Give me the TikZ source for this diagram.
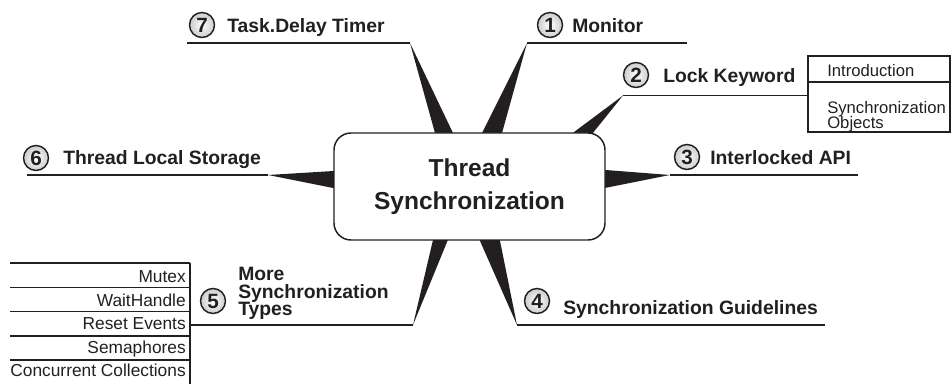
\documentclass[tikz,border=0pt]{standalone}
\usepackage{fontspec}
\setmainfont{Liberation Sans}
\definecolor{ink}{HTML}{231F20}
\begin{document}
\begin{tikzpicture}[x=0.75pt,y=-0.75pt,
  lab/.style={anchor=base west, inner sep=0, font=\bfseries\fontsize{14.5}{17}\selectfont, text=ink},
  num/.style={circle, draw=ink, line width=1.1pt, inner sep=0, minimum size=18.75pt, inner color=white, outer color=gray!40, font=\bfseries\fontsize{15.5}{17}\selectfont, text=ink},
  uline/.style={draw=ink, line width=1.1pt},
  spike/.style={fill=ink},
  sub/.style={inner sep=0, font=\fontsize{12.5}{11.25}\selectfont, text=ink, align=left},
  item/.style={anchor=base east, inner sep=0, font=\fontsize{13}{15}\selectfont, text=ink},
  core/.style={draw=ink, line width=1.1pt, fill=white, rounded corners=12.75pt, minimum width=203.25pt, minimum height=80.25pt, align=center, font=\bfseries\fontsize{18.4}{24.75}\selectfont, text=ink}
]
\path[use as bounding box] (0,0) rectangle (951,384);

% apex points and underline ends
\coordinate (a7) at (410,43);   \coordinate (e7) at (187,43);
\coordinate (a1) at (527,43);   \coordinate (e1) at (687,43);
\coordinate (a2) at (623,95.5); \coordinate (e2) at (808,95.5);
\coordinate (a3) at (670,175);  \coordinate (e3) at (858,175);
\coordinate (a6) at (268,175);  \coordinate (e6) at (27,175);
\coordinate (a5) at (413,325);  \coordinate (e5) at (190,325);
\coordinate (a4) at (517,325);  \coordinate (e4) at (825,325);

% spikes
\fill[spike] (a7) -- (439.7,150) -- (461.1,150) -- cycle;
\fill[spike] (a1) -- (473.5,150) -- (497.3,150) -- cycle;
\fill[spike] (a2) -- (548,151.5) -- (578,151.5) -- cycle;
\fill[spike] (a3) -- (590,168.8) -- (590,191) -- cycle;
\fill[spike] (a6) -- (350,170) -- (350,191.4) -- cycle;
\fill[spike] (a5) -- (436.5,225) -- (454,225) -- cycle;
\fill[spike] (a4) -- (473,225) -- (496.8,225) -- cycle;

% underlines
\draw[uline] (e7) -- (a7);
\draw[uline] (a1) -- (e1);
\draw[uline] (a2) -- (e2);
\draw[uline] (a3) -- (e3);
\draw[uline] (e6) -- (a6);
\draw[uline] (e5) -- (a5);
\draw[uline] (a4) -- (e4);

% central node
\node[core] (center) at (469.5,186.5) {Thread\\[-0.5pt]Synchronization};

% numbered circles
\node[num] (c7) at (202,25) {7};
\node[num] (c1) at (550,25) {1};
\node[num] (c2) at (636,75) {2};
\node[num] (c3) at (687,157) {3};
\node[num] (c6) at (36,158) {6};
\node[num] (c5) at (213,301) {5};
\node[num] (c4) at (537,301) {4};

% labels
\node[lab] (t7) at (227,33) {Task.Delay Timer};
\node[lab] (t1) at (572,33) {Monitor};
\node[lab] (t2) at (663,83) {Lock Keyword};
\node[lab] (t3) at (710,165) {Interlocked API};
\node[lab] (t6) at (63,165) {Thread Local Storage};
\node[lab, anchor=west, align=left, font=\bfseries\fontsize{14.5}{13.1}\selectfont] (t5) at (238,293.5) {More\\Synchronization\\Types};
\node[lab] (t4) at (563,315) {Synchronization Guidelines};

% lock keyword sub box
\draw[uline] (808,56) rectangle (950,132);
\draw[uline] (808,82) -- (950,82);
\node[sub, anchor=base west] (s21) at (827,77) {Introduction};
\node[sub, anchor=base west] (s22) at (827,113.5) {Synchronization};
\node[sub, anchor=base west] (s23) at (827,128.5) {Objects};

% left list
\draw[uline] (10,263) -- (190,263);
\draw[uline] (10,287.5) -- (190,287.5);
\draw[uline] (10,311.5) -- (190,311.5);
\draw[uline] (10,336) -- (190,336);
\draw[uline] (10,360) -- (190,360);
\draw[uline] (190,263) -- (190,384);
\node[item] (m1) at (186,283) {Mutex};
\node[item] (m2) at (186,306.5) {WaitHandle};
\node[item] (m3) at (186,330) {Reset Events};
\node[item] (m4) at (186,353.5) {Semaphores};
\node[item] (m5) at (186,376.5) {Concurrent Collections};
\end{tikzpicture}
\end{document}
